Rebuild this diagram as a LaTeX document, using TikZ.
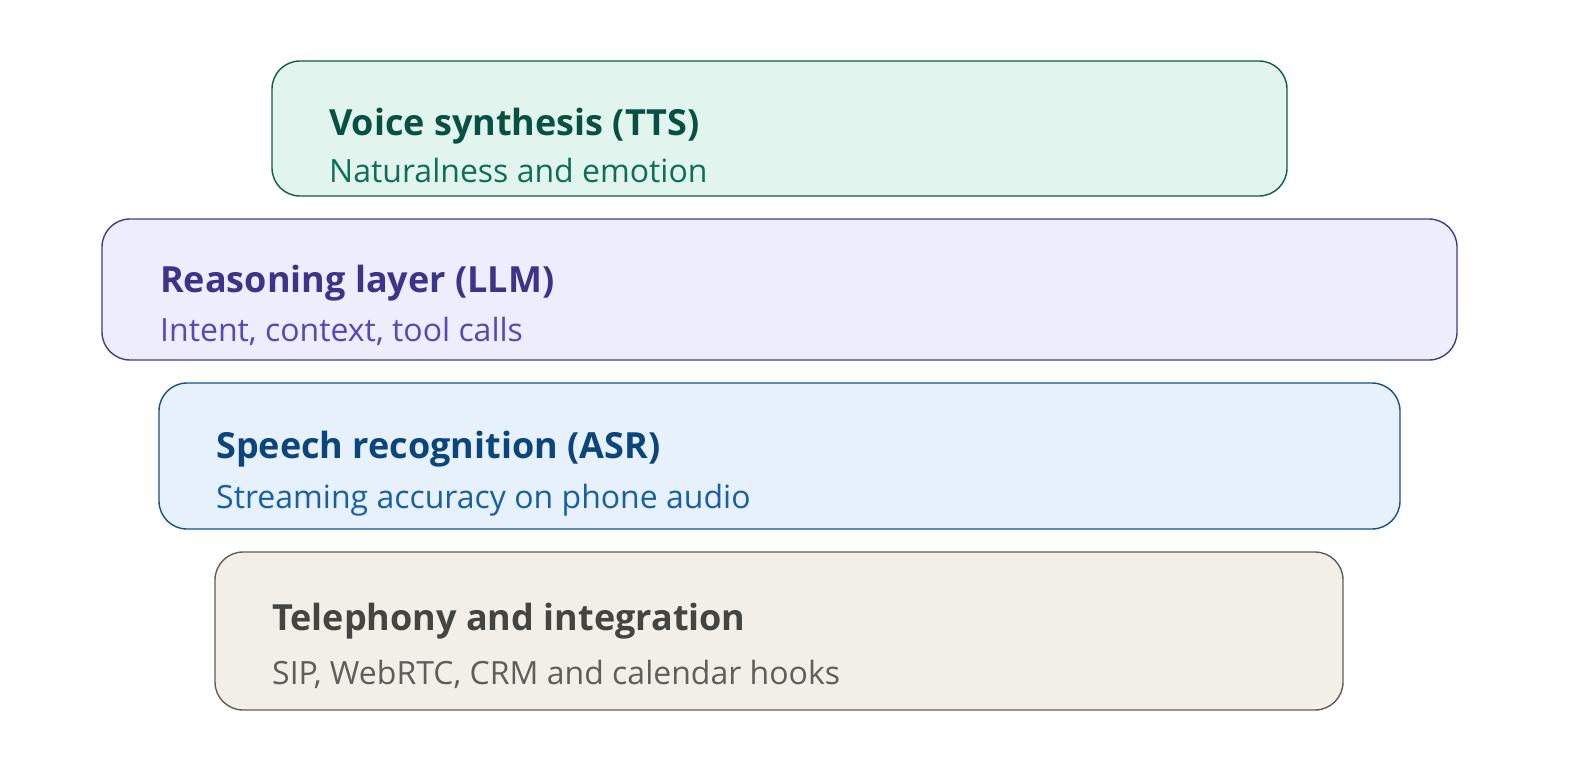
\documentclass[tikz,border=0pt]{standalone}
\usepackage{fontspec}
\setmainfont{Open Sans}
\definecolor{tealfill}{HTML}{E1F5EE}
\definecolor{tealline}{HTML}{0F6E56}
\definecolor{tealdark}{HTML}{085041}
\definecolor{purpfill}{HTML}{EEEDFE}
\definecolor{purpline}{HTML}{534AB7}
\definecolor{purpdark}{HTML}{3C3489}
\definecolor{bluefill}{HTML}{E6F1FB}
\definecolor{blueline}{HTML}{185FA5}
\definecolor{bluedark}{HTML}{0C447C}
\definecolor{grayfill}{HTML}{F1EFE8}
\definecolor{grayline}{HTML}{5F5E5A}
\definecolor{graydark}{HTML}{444441}
\tikzset{
  layer/.style={draw, rounded corners=28pt, line width=1.4pt, inner sep=0pt},
  ttl/.style={anchor=base west, inner sep=0pt, font=\fontsize{36}{42}\selectfont\bfseries},
  sub/.style={anchor=base west, inner sep=0pt, font=\fontsize{32}{38}\selectfont},
}
\begin{document}
\begin{tikzpicture}[x=1pt,y=-1pt]
\useasboundingbox (0,0) rectangle (1569,782);
\node[layer, fill=tealfill, draw=tealline!85!black, minimum width=1015pt, minimum height=135pt] (tts) at (779.5,128.5) {};
\node[layer, fill=purpfill, draw=purpline!80!black, minimum width=1355pt, minimum height=141pt] (llm) at (779.5,289.5) {};
\node[layer, fill=bluefill, draw=blueline!85!black, minimum width=1241pt, minimum height=146pt] (asr) at (779.5,456) {};
\node[layer, fill=grayfill, draw=grayline, minimum width=1128pt, minimum height=158pt] (tel) at (779,631) {};

\node[ttl, text=tealdark] (ttst) at (329,135) {Voice synthesis (TTS)};
\node[sub, text=tealline] (ttss) at (329,182) {Naturalness and emotion};
\node[ttl, text=purpdark] (llmt) at (160,292) {Reasoning layer (LLM)};
\node[sub, text=purpline] (llms) at (160,341) {Intent, context, tool calls};
\node[ttl, text=bluedark] (asrt) at (216,458) {Speech recognition (ASR)};
\node[sub, text=blueline] (asrs) at (216,508) {Streaming accuracy on phone audio};
\node[ttl, text=graydark] (telt) at (272,630) {Telephony and integration};
\node[sub, text=grayline] (tels) at (272,684) {SIP, WebRTC, CRM and calendar hooks};
\end{tikzpicture}
\end{document}
